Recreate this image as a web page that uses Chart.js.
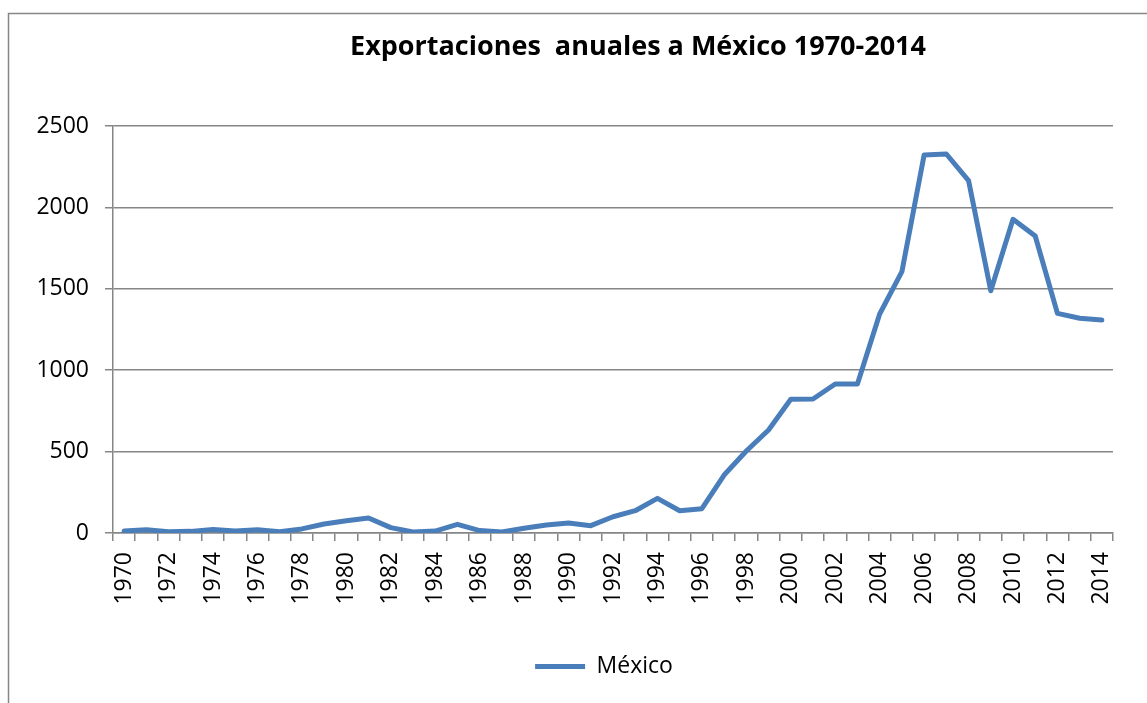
<!DOCTYPE html>
<html>
<head>
<meta charset="utf-8">
<script src="https://cdn.jsdelivr.net/npm/chart.js@4/dist/chart.umd.min.js"></script>
<style>
  html, body { margin: 0; padding: 0; background: #fff; }
  #wrap { width: 1147px; height: 703px; }
</style>
</head>
<body>
<div id="wrap"><canvas id="chart" width="1147" height="703"></canvas></div>
<script>
const TITLE = "Exportaciones  anuales a México 1970-2014";
const SERIES_NAME = "México";

const years = [];
for (let y = 1970; y <= 2014; y++) years.push(String(y));

// valores
const mexico = [
  12, 20, 8, 10, 22, 12, 20, 8, 25, 55,
  75, 92, 33, 6, 12, 53, 15, 6, 29, 49,
  61, 45, 100, 137, 213, 137, 149, 356, 504, 633,
  821, 823, 915, 915, 1345, 1605, 2322, 2328, 2165, 1488,
  1927, 1824, 1349, 1319, 1308
];

const yTicks = [0, 500, 1000, 1500, 2000, 2500];

const FONT = "'Open Sans', 'DejaVu Sans', sans-serif";
const GRAY = "#868686";

// borde del área del gráfico, título, y leyenda algo a la derecha
const frame = {
  id: "frame",
  afterLayout(chart) {
    chart.legend.left += 95;
  },
  beforeDraw(chart) {
    const c = chart.ctx;
    c.save();
    c.strokeStyle = GRAY;
    c.lineWidth = 1.5;
    c.beginPath();
    c.moveTo(8.5, 710);
    c.lineTo(8.5, 13.5);
    c.lineTo(1160, 13.5);
    c.stroke();
    c.restore();
  },
  afterDraw(chart) {
    const c = chart.ctx;
    c.save();
    c.fillStyle = "#000";
    c.font = "bold 27px " + FONT;
    c.textAlign = "center";
    c.textBaseline = "middle";
    c.fillText(TITLE, 638, 47);
    c.restore();
  }
};

new Chart(document.getElementById("chart"), {
  type: "line",
  data: {
    labels: years,
    datasets: [{
      label: SERIES_NAME,
      data: mexico,
      borderColor: "#4a7ebb",
      backgroundColor: "#4a7ebb",
      borderWidth: 5,
      pointRadius: 0,
      tension: 0,
      borderJoinStyle: "round",
      borderCapStyle: "round"
    }]
  },
  options: {
    responsive: false,
    animation: false,
    layout: { padding: { left: 0, right: 34, top: 126, bottom: 15 } },
    plugins: {
      title: { display: false },
      tooltip: { enabled: false },
      legend: {
        position: "bottom",
        labels: {
          color: "#000",
          font: { family: FONT, size: 23 },
          usePointStyle: true,
          pointStyle: "line",
          pointStyleWidth: 50,
          padding: 10
        }
      }
    },
    scales: {
      x: {
        offset: true,
        grid: {
          offset: true,
          drawOnChartArea: false,
          drawTicks: true,
          tickLength: 8,
          color: GRAY,
          lineWidth: 1.5
        },
        border: { color: GRAY, width: 1.5 },
        ticks: {
          color: "#000",
          font: { family: FONT, size: 23 },
          autoSkip: false,
          maxRotation: 90,
          minRotation: 90,
          padding: 11,
          callback: function (v, i) { return i % 2 === 0 ? years[i] : ""; }
        },
        afterFit(scale) { scale.height = 112; }
      },
      y: {
        min: 0,
        max: 2500,
        afterBuildTicks(scale) { scale.ticks = yTicks.map(v => ({ value: v })); },
        grid: { color: GRAY, lineWidth: 1.5, tickLength: 8 },
        border: { color: GRAY, width: 1.5 },
        ticks: {
          color: "#000",
          font: { family: FONT, size: 23 },
          padding: 16,
          callback: function (v) { return String(v); }
        },
        afterFit(scale) { scale.width = 113; }
      }
    }
  },
  plugins: [frame]
});
</script>
</body>
</html>
